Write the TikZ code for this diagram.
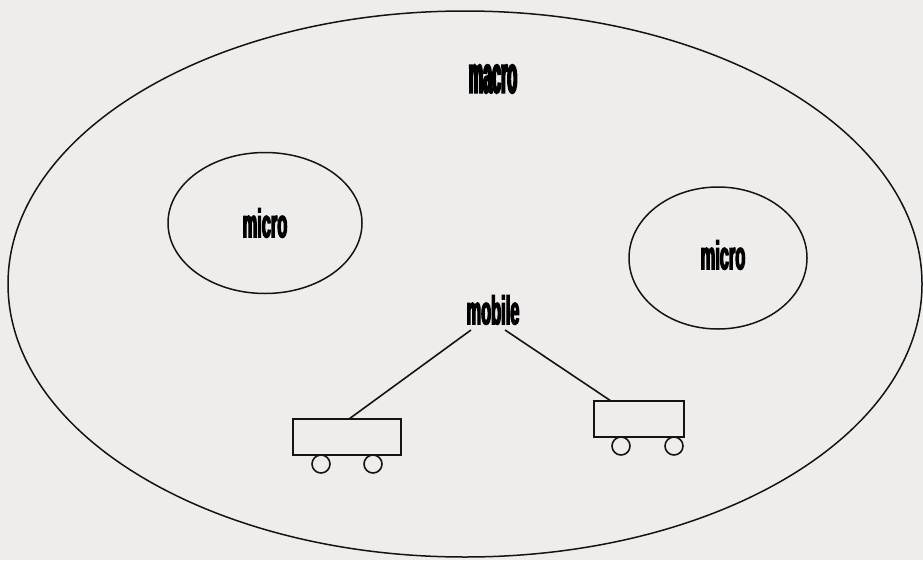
\documentclass[tikz,border=0pt]{standalone}
\usepackage{fontspec}
\usepackage{tikz}
\usetikzlibrary{shapes.geometric}

\newfontfamily\cellfont[FakeStretch=0.41, FakeBold=3]{Liberation Sans Bold}
\newfontfamily\macrofont[FakeStretch=0.31, FakeBold=3.5]{Liberation Sans Bold}
\definecolor{paper}{RGB}{238,237,235}
\definecolor{ink}{RGB}{20,20,20}

\tikzset{
	cell/.style={draw=ink, ellipse, line width=1.5pt, inner sep=0pt},
	cart/.style={draw=ink, rectangle, line width=1.6pt, inner sep=0pt},
	wheel/.style={draw=ink, line width=1.6pt},
	tag/.style={font=\cellfont\fontsize{40}{40}\selectfont, inner sep=0pt}
}

\begin{document}
\begin{tikzpicture}[x=1pt, y=-1pt]
	\fill[paper] (0,0) rectangle (923,560);
	\useasboundingbox (0,0) rectangle (923,560);

	% Macro cell
	\draw[ink, line width=1.5pt] (465,284) ellipse (457 and 273);
	\node [tag, font=\macrofont\fontsize{52}{52}\selectfont] (macro) at (493,79) {macro};

	% Micro cells
	\node [cell, tag, minimum width=194, minimum height=141] (microL) at (265,223) {micro};
	\node [cell, minimum width=178, minimum height=142] (microR) at (718,258) {};
	\node [tag] (microRtag) at (723,255) {micro};

	% Mobile and its two carts
	\node [tag] (mobile) at (493,310) {mobile};
	\coordinate (mobL) at (471,330);
	\coordinate (mobR) at (505,330);

	\node [cart, minimum width=108, minimum height=36] (cartL) at (347,437) {};
	\coordinate (cartLtop) at (349,419);
	\draw [wheel] (321,464) circle (9);
	\draw [wheel] (373,464) circle (9);

	\node [cart, minimum width=90, minimum height=36] (cartR) at (639,419) {};
	\coordinate (cartRtop) at (611,401);
	\draw [wheel] (621,446) circle (9);
	\draw [wheel] (674,446) circle (9);

	\draw [ink, line width=1.6pt] (mobL) -- (cartLtop);
	\draw [ink, line width=1.6pt] (mobR) -- (cartRtop);
\end{tikzpicture}
\end{document}
